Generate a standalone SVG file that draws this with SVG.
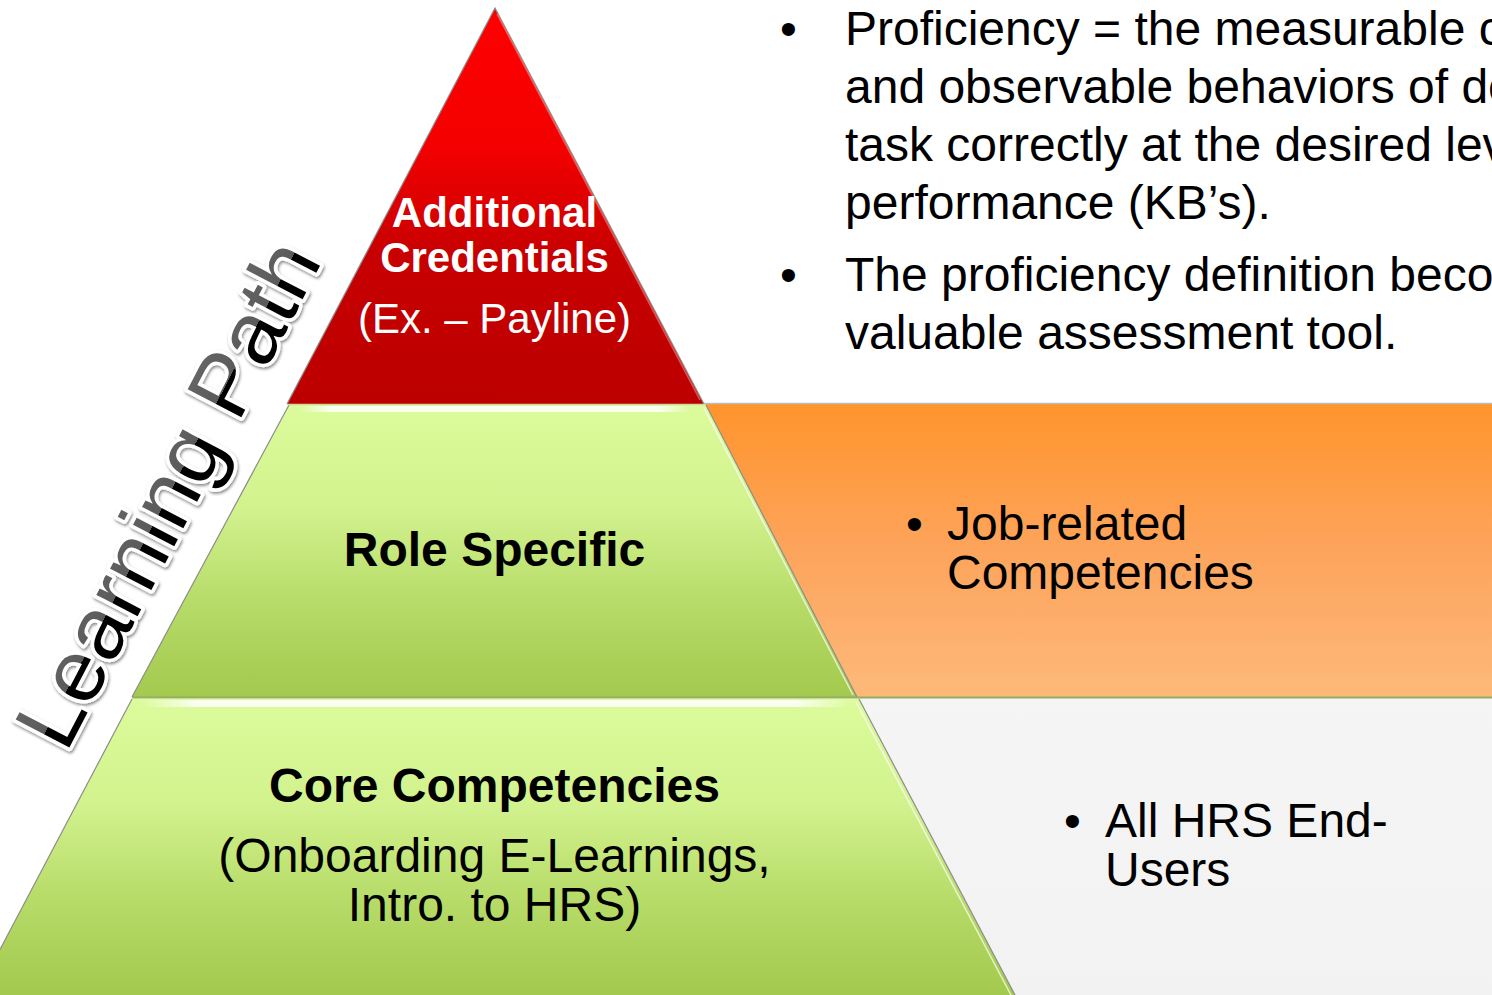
<svg xmlns="http://www.w3.org/2000/svg" width="1492" height="995" viewBox="0 0 1492 995">
  <defs>
    <linearGradient id="gRed" x1="0" y1="0" x2="0" y2="1">
      <stop offset="0" stop-color="#FF0000"/>
      <stop offset="0.35" stop-color="#F40000"/>
      <stop offset="0.62" stop-color="#C80000"/>
      <stop offset="1" stop-color="#BC0000"/>
    </linearGradient>
    <linearGradient id="gGreen" x1="0" y1="0" x2="0" y2="1">
      <stop offset="0" stop-color="#DCFC9C"/>
      <stop offset="0.35" stop-color="#D2F28E"/>
      <stop offset="0.7" stop-color="#B5DA66"/>
      <stop offset="1" stop-color="#A3C94E"/>
    </linearGradient>
    <linearGradient id="gOrange" x1="0" y1="0" x2="0" y2="1">
      <stop offset="0" stop-color="#FF942C"/>
      <stop offset="0.5" stop-color="#FDA45C"/>
      <stop offset="1" stop-color="#FDB979"/>
    </linearGradient>
    <linearGradient id="gGrey" x1="0" y1="0" x2="0" y2="1">
      <stop offset="0" stop-color="#F5F5F5"/>
      <stop offset="1" stop-color="#F2F2F2"/>
    </linearGradient>
    <linearGradient id="gShine" x1="0" y1="0" x2="1" y2="0">
      <stop offset="0" stop-color="#FFFFFF" stop-opacity="0"/>
      <stop offset="0.08" stop-color="#FFFFFF" stop-opacity="0.85"/>
      <stop offset="0.92" stop-color="#FFFFFF" stop-opacity="0.85"/>
      <stop offset="1" stop-color="#FFFFFF" stop-opacity="0"/>
    </linearGradient>
    <linearGradient id="gGloss" x1="0" y1="0" x2="0" y2="1">
      <stop offset="0" stop-color="#6A6A6A"/>
      <stop offset="0.52" stop-color="#5A5A5A"/>
      <stop offset="0.52" stop-color="#000000"/>
      <stop offset="1" stop-color="#000000"/>
    </linearGradient>
    <filter id="fShadow" x="-10%" y="-30%" width="120%" height="160%">
      <feDropShadow dx="1" dy="2" stdDeviation="1.5" flood-color="#000" flood-opacity="0.45"/>
    </filter>
    <style>
      .edge { stroke: #8C8C8C; stroke-width: 1.2; fill: none; }
      .hl { stroke: #FFFFFF; stroke-width: 1.5; stroke-opacity: 0.7; fill: none; }
      .sep { stroke: #93AE5E; stroke-width: 2; }
      .t { font-family: "Liberation Sans", Arial, sans-serif; }
      .title { font-weight: bold; font-size: 48px; fill: #000; text-anchor: middle; }
      .sub { font-size: 48px; fill: #000; text-anchor: middle; }
      .wbold { font-weight: bold; font-size: 42px; fill: #FFFFFF; text-anchor: middle; }
      .wreg { font-size: 42px; fill: #FFFFFF; text-anchor: middle; }
      .body { font-size: 48px; fill: #000; }
      .side { font-size: 48px; fill: #000; }
    </style>
  </defs>

  <rect width="1492" height="995" fill="#FFFFFF"/>

  <!-- side panels -->
  <g id="panel-role">
    <rect x="704" y="404" width="788" height="293" fill="url(#gOrange)"/>
    <line x1="704" y1="403.5" x2="1492" y2="403.5" stroke="#BDBDBD" stroke-width="1.5"/>
  </g>
  <g id="panel-core">
    <rect x="858" y="698" width="634" height="297" fill="url(#gGrey)"/>
  </g>

  <!-- pyramid tiers -->
  <g id="tier-additional">
    <polygon points="495,8 704,404 287,404" fill="url(#gRed)"/>
    <polyline class="edge" points="287,404 495,8 704,404"/>
    <line x1="497" y1="14" x2="700" y2="400" stroke="#FF8A8A" stroke-width="1.5" stroke-opacity="0.6"/>
  </g>
  <g id="tier-role">
    <polygon points="289,405 706,405 857,697 132,697" fill="url(#gGreen)"/>
    <rect x="300" y="406" width="390" height="6" fill="url(#gShine)"/>
    <polyline class="edge" points="132,697 289,405"/>
    <polyline class="edge" points="706,405 857,697"/>
    <line class="hl" x1="704" y1="408" x2="853" y2="695"/>
  </g>
  <g id="tier-core">
    <polygon points="132,699 859,699 1015,995 -24,995" fill="url(#gGreen)"/>
    <rect x="140" y="700" width="712" height="7" fill="url(#gShine)"/>
    <polyline class="edge" points="-24,995 132,699"/>
    <polyline class="edge" points="859,699 1015,995"/>
    <line class="hl" x1="856" y1="702" x2="1011" y2="995"/>
  </g>

  <!-- tier separators -->
  <g id="connectors">
    <line class="sep" x1="132" y1="697.5" x2="1492" y2="697.5"/>
    <line x1="287" y1="404.5" x2="706" y2="404.5" stroke="#C9D9A0" stroke-width="1.5"/>
  </g>

  <!-- tier labels -->
  <g id="label-additional" class="t">
    <text class="wbold" x="494.5" y="227">Additional</text>
    <text class="wbold" x="494.5" y="272">Credentials</text>
    <text class="wreg" x="494.5" y="333">(Ex. – Payline)</text>
  </g>
  <g id="label-role" class="t">
    <text class="title" x="494.5" y="566">Role Specific</text>
  </g>
  <g id="label-core" class="t">
    <text class="title" x="494.5" y="802">Core Competencies</text>
    <text class="sub" x="494.5" y="872">(Onboarding E-Learnings,</text>
    <text class="sub" x="494.5" y="921">Intro. to HRS)</text>
  </g>

  <!-- side labels -->
  <g id="label-job" class="t side">
    <text x="906" y="540">•</text>
    <text x="947" y="540">Job-related</text>
    <text x="947" y="589">Competencies</text>
  </g>
  <g id="label-users" class="t side">
    <text x="1064" y="837">•</text>
    <text x="1105" y="837">All HRS End-</text>
    <text x="1105" y="886">Users</text>
  </g>

  <!-- definition notes -->
  <g id="notes" class="t body">
    <text x="780" y="45">•</text>
    <text x="845" y="45">Proficiency = the measurable c</text>
    <text x="845" y="103">and observable behaviors of de</text>
    <text x="845" y="161">task correctly at the desired lev</text>
    <text x="845" y="219">performance (KB’s).</text>
    <text x="780" y="291">•</text>
    <text x="845" y="291">The proficiency definition beco</text>
    <text x="845" y="349">valuable assessment tool.</text>
  </g>

  <!-- rotated path caption -->
  <g id="learning-path" filter="url(#fShadow)">
    <text class="t" transform="translate(66,754) rotate(-62.5)" font-size="88" textLength="556" lengthAdjust="spacingAndGlyphs" fill="url(#gGloss)" stroke="#FFFFFF" stroke-width="7" stroke-linejoin="round" paint-order="stroke">Learning Path</text>
  </g>
</svg>
